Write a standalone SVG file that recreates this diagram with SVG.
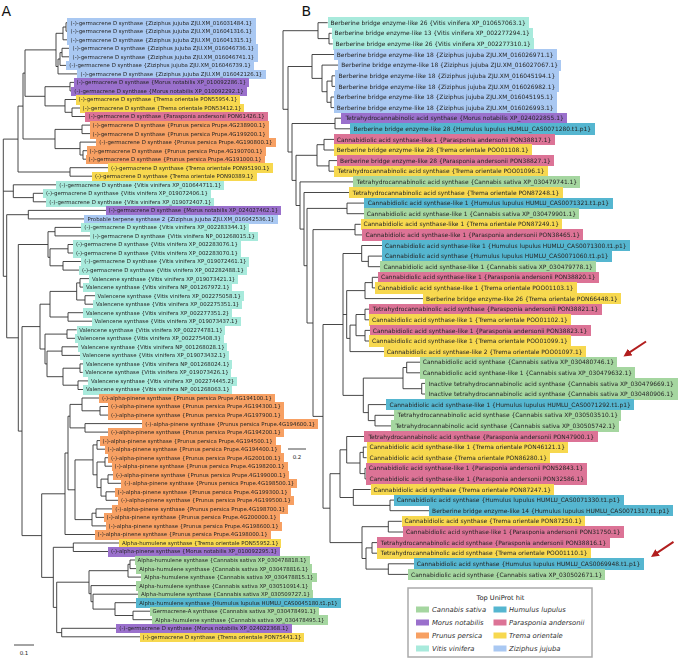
<svg xmlns="http://www.w3.org/2000/svg" width="684" height="660" viewBox="0 0 684 660">
<style>
.e{fill:none;stroke:#333;stroke-width:0.9}
.a{font-family:"DejaVu Sans",Verdana,sans-serif;font-size:5.4px;fill:#262626}
.b{font-family:"DejaVu Sans",Verdana,sans-serif;font-size:5.93px;fill:#262626}
.pl{font-family:"DejaVu Sans",Verdana,sans-serif;font-size:14px;fill:#111}
.sc{font-family:"DejaVu Sans",Verdana,sans-serif;font-size:5.5px;fill:#222}
.lt{font-family:"DejaVu Sans",Verdana,sans-serif;font-size:6.6px;fill:#222}
.li{font-family:"DejaVu Sans",Verdana,sans-serif;font-size:6.8px;font-style:italic;fill:#333}
.a.z{filter:url(#Az)}.a.m{filter:url(#Am)}.a.t{filter:url(#At)}.a.p{filter:url(#Ap)}
.a.r{filter:url(#Ar)}.a.v{filter:url(#Av)}.a.c{filter:url(#Ac)}.a.h{filter:url(#Ah)}
.b.z{filter:url(#Bz)}.b.m{filter:url(#Bm)}.b.t{filter:url(#Bt)}.b.p{filter:url(#Bp)}
.b.r{filter:url(#Br)}.b.v{filter:url(#Bv)}.b.c{filter:url(#Bc)}.b.h{filter:url(#Bh)}
.arr{stroke:#b21e1e;stroke-width:2;fill:none}
</style>
<defs>
<filter id="Az" x="-0.015" y="-0.09" width="1.03" height="1.18" color-interpolation-filters="sRGB"><feFlood flood-color="#a9c8f2"/><feMerge><feMergeNode/><feMergeNode in="SourceGraphic"/></feMerge></filter>
<filter id="Am" x="-0.015" y="-0.09" width="1.03" height="1.18" color-interpolation-filters="sRGB"><feFlood flood-color="#9a70cc"/><feMerge><feMergeNode/><feMergeNode in="SourceGraphic"/></feMerge></filter>
<filter id="At" x="-0.015" y="-0.09" width="1.03" height="1.18" color-interpolation-filters="sRGB"><feFlood flood-color="#f7d84f"/><feMerge><feMergeNode/><feMergeNode in="SourceGraphic"/></feMerge></filter>
<filter id="Ap" x="-0.015" y="-0.09" width="1.03" height="1.18" color-interpolation-filters="sRGB"><feFlood flood-color="#dc7396"/><feMerge><feMergeNode/><feMergeNode in="SourceGraphic"/></feMerge></filter>
<filter id="Ar" x="-0.015" y="-0.09" width="1.03" height="1.18" color-interpolation-filters="sRGB"><feFlood flood-color="#f7a063"/><feMerge><feMergeNode/><feMergeNode in="SourceGraphic"/></feMerge></filter>
<filter id="Av" x="-0.015" y="-0.09" width="1.03" height="1.18" color-interpolation-filters="sRGB"><feFlood flood-color="#a8eadc"/><feMerge><feMergeNode/><feMergeNode in="SourceGraphic"/></feMerge></filter>
<filter id="Ac" x="-0.015" y="-0.09" width="1.03" height="1.18" color-interpolation-filters="sRGB"><feFlood flood-color="#a5d6a0"/><feMerge><feMergeNode/><feMergeNode in="SourceGraphic"/></feMerge></filter>
<filter id="Ah" x="-0.015" y="-0.09" width="1.03" height="1.18" color-interpolation-filters="sRGB"><feFlood flood-color="#55b6d0"/><feMerge><feMergeNode/><feMergeNode in="SourceGraphic"/></feMerge></filter>
<filter id="Bz" x="-0.012" y="-0.15" width="1.024" height="1.3" color-interpolation-filters="sRGB"><feFlood flood-color="#a9c8f2"/><feMerge><feMergeNode/><feMergeNode in="SourceGraphic"/></feMerge></filter>
<filter id="Bm" x="-0.012" y="-0.15" width="1.024" height="1.3" color-interpolation-filters="sRGB"><feFlood flood-color="#9a70cc"/><feMerge><feMergeNode/><feMergeNode in="SourceGraphic"/></feMerge></filter>
<filter id="Bt" x="-0.012" y="-0.15" width="1.024" height="1.3" color-interpolation-filters="sRGB"><feFlood flood-color="#f7d84f"/><feMerge><feMergeNode/><feMergeNode in="SourceGraphic"/></feMerge></filter>
<filter id="Bp" x="-0.012" y="-0.15" width="1.024" height="1.3" color-interpolation-filters="sRGB"><feFlood flood-color="#dc7396"/><feMerge><feMergeNode/><feMergeNode in="SourceGraphic"/></feMerge></filter>
<filter id="Br" x="-0.012" y="-0.15" width="1.024" height="1.3" color-interpolation-filters="sRGB"><feFlood flood-color="#f7a063"/><feMerge><feMergeNode/><feMergeNode in="SourceGraphic"/></feMerge></filter>
<filter id="Bv" x="-0.012" y="-0.15" width="1.024" height="1.3" color-interpolation-filters="sRGB"><feFlood flood-color="#a8eadc"/><feMerge><feMergeNode/><feMergeNode in="SourceGraphic"/></feMerge></filter>
<filter id="Bc" x="-0.012" y="-0.15" width="1.024" height="1.3" color-interpolation-filters="sRGB"><feFlood flood-color="#a5d6a0"/><feMerge><feMergeNode/><feMergeNode in="SourceGraphic"/></feMerge></filter>
<filter id="Bh" x="-0.012" y="-0.15" width="1.024" height="1.3" color-interpolation-filters="sRGB"><feFlood flood-color="#55b6d0"/><feMerge><feMergeNode/><feMergeNode in="SourceGraphic"/></feMerge></filter>
<marker id="ah" viewBox="0 0 10 10" refX="6.5" refY="5" markerWidth="4" markerHeight="4" orient="auto"><path d="M0,0L10,5L0,10z" fill="#b21e1e"/></marker>
</defs>
<rect width="684" height="660" fill="#fff"/>
<text class="pl" x="1.5" y="15.5">A</text>
<text class="pl" x="301.5" y="15.5">B</text>
<g id="edges-A">
<path class="e" d="M66 22.7V31.2M63 27V39.8M62 48.3V56.8M60 52.6V65.4M58 59V73.9M56 33.3V66.5M70 82.4V90.9M72 108V116.5M65 99.5V112.3M45 86.7V105.9M25 49.9V96.3M82 125.1V133.6M83 150.7V159.2M80 142.1V155M55 129.4V148.6M23 73.1V139M70 167.7V176.2M18 106.1V172M33.3 193.3V201.8M13.3 184.8V197.6M28.3 210.4V218.9M55 227.4V235.9M68 244.5V253M63 261.5V270.1M50 248.8V265.8M48 231.7V257.3M80 278.6V287.1M85 295.7V304.2M76.7 282.9V300M68 312.7V321.2M50 291.4V317M67 329.8V338.3M62 346.8V355.4M80 363.9V372.4M78 380.9V389.5M63 368.2V385.2M47 351.1V376.7M45 334.1V363.9M40 304.2V349M100 406.5V415.1M82 398V410.8M85 423.6V432.1M70 404.4V427.9M97 440.6V449.2M105 457.7V466.2M108 474.8V483.3M106 491.8V500.3M101 479.1V496.1M97 462V487.6M93 444.9V474.8M96 508.9V517.4M92 513.2V525.9M75 459.9V519.6M68 416.2V489.8M65 453V534.5M73.3 543V551.5M130 560V568.6M128 564.3V577.1M133 611.2V619.7M115 602.7V615.5M93 594.2V609.1M91 585.6V601.7M89 570.7V593.7M61.7 628.3V636.8M56.7 582.2V632.6M53.3 547.3V607.4M41.7 493.8V577.4M22 326.6V535.6M18.3 244.5V431.1M6.7 214.7V337.8M3.3 139.1V276.3"/>
<path class="e" d="M66 22.7H68M66 31.2H68M63 39.8H68M62 48.3H70M62 56.8H70M60 65.4H66.7M58 73.9H78M70 82.4H74M70 90.9H71.7M65 99.5H76M72 108H80M72 116.5H86M82 125.1H90M82 133.6H90M80 142.1H96.7M83 150.7H87M83 159.2H86M70 167.7H108.3M70 176.2H92.3M13.3 184.8H56.7M33.3 193.3H43.3M33.3 201.8H46.7M28.3 210.4H106M28.3 218.9H85M55 227.4H81.7M55 235.9H90M68 244.5H73.3M68 253H73.3M63 261.5H81.7M63 270.1H79.3M80 278.6H89.3M80 287.1H83.3M85 295.7H95M85 304.2H93.3M68 312.7H83.3M68 321.2H92M67 329.8H76.7M67 338.3H75M62 346.8H78.3M62 355.4H80M80 363.9H83.3M80 372.4H82.7M78 380.9H88.3M78 389.5H83.3M82 398H99.3M100 406.5H108.3M100 415.1H108.3M85 423.6H142.7M85 432.1H108.3M97 440.6H100M97 449.2H105M105 457.7H108.3M105 466.2H112M108 474.8H113.3M108 483.3H121.7M106 491.8H115M106 500.3H118.3M96 508.9H112.7M96 517.4H104M92 525.9H106M65 534.5H95M73.3 543H119.3M73.3 551.5H108.3M130 560H135M130 568.6H136.7M128 577.1H141.7M91 585.6H136.7M93 594.2H138.3M115 602.7H136.7M133 611.2H150M133 619.7H152.7M61.7 628.3H116.7M61.7 636.8H140"/>
<path class="e" d="M63 27H66M56 33.3H63M60 52.6H62M58 59H60M56 66.5H58M45 86.7H70M65 112.3H72M45 105.9H65M25 49.9H56M25 96.3H45M55 129.4H82M80 155H83M55 148.6H80M23 73.1H25M23 139H55M18 106.1H23M18 172H70M13.3 197.6H33.3M3.3 139.1H18M3.3 191.2H13.3M3.3 276.3H6.7M6.7 214.7H28.3M6.7 337.8H18.3M18.3 244.5H48M18.3 431.1H22M48 231.7H55M48 257.3H50M50 248.8H68M50 265.8H63M76.7 282.9H80M76.7 300H85M50 291.4H76.7M50 317H68M40 304.2H50M40 349H45M45 334.1H67M45 363.9H47M47 351.1H62M47 376.7H63M63 368.2H80M63 385.2H78M22 326.6H40M22 535.6H41.7M82 410.8H100M70 404.4H82M70 427.9H85M68 416.2H70M93 444.9H97M93 474.8H97M97 462H105M97 487.6H101M101 479.1H108M101 496.1H106M75 459.9H93M75 519.6H92M92 513.2H96M68 489.8H75M65 453H68M41.7 493.8H65M41.7 577.4H53.3M53.3 547.3H73.3M53.3 607.4H56.7M56.7 582.2H89M56.7 632.6H61.7M89 570.7H128M128 564.3H130M89 593.7H91M91 601.7H93M93 609.1H115M115 615.5H133"/>
<path class="e" d="M14 645H34"/>
</g>
<text class="sc" x="24" y="655" text-anchor="middle">0.1</text>
<g id="edges-B">
<path class="e" d="M329 33.3V43.9M318 22.7V38.6M332 75.8V86.4M331 97V107.6M327 81.1V102.3M322 65.1V91.7M312 54.5V78.4M335 118.2V128.8M324 139.4V150M329 160.6V171.2M317 144.7V165.9M347 203.1V213.7M355 224.3V234.9M368.3 256.1V266.7M361.7 245.5V261.4M372.3 277.3V287.9M365 282.6V298.6M365 309.2V319.8M365 330.4V341M356 314.5V335.7M350 325.1V351.6M346.7 290.6V338.4M406.7 362.2V372.8M421.7 383.4V394M403 367.5V388.7M375 415.3V425.9M368.3 404.6V420.6M363.3 378.1V412.6M343 253.5V395.4M363.3 447.1V457.7M365 468.3V478.9M360 452.4V473.6M346.7 436.5V463M390 500.1V510.7M353.3 489.5V505.4M340 449.8V497.5M388.3 521.3V532M372 542.6V553.2M388.3 563.8V574.4M366 547.9V569.1M362 526.7V558.5M330 473.7V542.6M323 324.5V508.2M313 229.6V416.4M307 208.4V323M304 192.5V265.7M300 181.9V229.1M296 155.3V205.5M292 123.5V180.4M288 66.5V152M283 30.7V109.3"/>
<path class="e" d="M318 22.7H327.7M329 33.3H331.7M329 43.9H332.7M318 38.6H329M312 54.5H334M322 65.1H338.5M332 75.8H335.7M332 86.4H335.7M331 97H334M331 107.6H334M327 81.1H332M327 102.3H331M322 91.7H327M312 78.4H322M335 118.2H342.7M335 128.8H350.7M324 139.4H334M324 150H334M329 160.6H337.3M329 171.2H335M317 144.7H324M317 165.9H329M300 181.9H354M304 192.5H350M347 203.1H365M347 213.7H364M355 224.3H360.7M355 234.9H362.7M361.7 245.5H382.3M368.3 256.1H382.3M368.3 266.7H380.7M361.7 261.4H368.3M372.3 277.3H378.3M372.3 287.9H375M365 282.6H372.3M365 298.6H423.3M365 309.2H370M365 319.8H369.3M365 330.4H370M365 341H369.3M356 314.5H365M356 335.7H365M350 325.1H356M350 351.6H384M346.7 290.6H365M346.7 338.4H350M406.7 362.2H420M406.7 372.8H420M421.7 383.4H425.7M421.7 394H425.7M403 367.5H406.7M403 388.7H421.7M368.3 404.6H386.7M375 415.3H395M375 425.9H392.7M368.3 420.6H375M363.3 378.1H403M363.3 412.6H368.3M343 253.5H361.7M343 314.5H346.7M343 395.4H363.3M346.7 436.5H365.7M363.3 447.1H366.7M363.3 457.7H366.7M365 468.3H366M365 478.9H366.7M360 452.4H363.3M360 473.6H365M346.7 463H360M353.3 489.5H370.7M390 500.1H394M390 510.7H429.3M353.3 505.4H390M340 449.8H346.7M340 497.5H353.3M388.3 521.3H401.7M388.3 532H403.3M372 542.6H378M372 553.2H378M388.3 563.8H414M388.3 574.4H408.3M366 547.9H372M366 569.1H388.3M362 526.7H388.3M362 558.5H366M330 473.7H340M330 542.6H362M323 324.5H343M323 508.2H330M313 229.6H355M313 416.4H323M307 208.4H347M307 323H313M304 265.7H307M300 229.1H304M296 205.5H300M296 155.3H317M292 180.4H296M292 123.5H335M288 152H292M288 66.5H312M283 30.7H318M283 109.3H288"/>
<path class="e" d="M288 449H306"/>
<line class="arr" x1="646" y1="341.5" x2="625.8" y2="354.9" marker-end="url(#ah)"/>
<line class="arr" x1="673.5" y1="541.8" x2="653.3" y2="555.4" marker-end="url(#ah)"/>
</g>
<text class="sc" x="297" y="458.5" text-anchor="middle">0.2</text>
<g id="a1"><text class="a z" x="70.6" y="24.6">(-)-germacrene D synthase {Ziziphus jujuba ZJU.XM_016031484.1}</text></g>
<g id="a2"><text class="a z" x="70.6" y="33.1">(-)-germacrene D synthase {Ziziphus jujuba ZJU.XM_016041316.1}</text></g>
<g id="a3"><text class="a z" x="70.6" y="41.7">(-)-germacrene D synthase {Ziziphus jujuba ZJU.XM_016041315.1}</text></g>
<g id="a4"><text class="a z" x="72.6" y="50.2">(-)-germacrene D synthase {Ziziphus jujuba ZJU.XM_016046736.1}</text></g>
<g id="a5"><text class="a z" x="72.6" y="58.7">(-)-germacrene D synthase {Ziziphus jujuba ZJU.XM_016046741.1}</text></g>
<g id="a6"><text class="a z" x="69.3" y="67.3">(-)-germacrene D synthase {Ziziphus jujuba ZJU.XM_016046739.1}</text></g>
<g id="a7"><text class="a z" x="80.6" y="75.8">(-)-germacrene D synthase {Ziziphus jujuba ZJU.XM_016042126.1}</text></g>
<g id="a8"><text class="a m" x="76.6" y="84.3">(-)-germacrene D synthase {Morus notabilis XP_010092286.1}</text></g>
<g id="a9"><text class="a m" x="74.3" y="92.8">(-)-germacrene D synthase {Morus notabilis XP_010092292.1}</text></g>
<g id="a10"><text class="a t" x="78.6" y="101.4">(-)-germacrene D synthase {Trema orientale PON55954.1}</text></g>
<g id="a11"><text class="a t" x="82.6" y="109.9">(-)-germacrene D synthase {Trema orientale PON53412.1}</text></g>
<g id="a12"><text class="a p" x="88.6" y="118.4">(-)-germacrene D synthase {Parasponia andersonii PON61426.1}</text></g>
<g id="a13"><text class="a r" x="92.6" y="127">(-)-germacrene D synthase {Prunus persica Prupe.4G238900.1}</text></g>
<g id="a14"><text class="a r" x="92.6" y="135.5">(-)-germacrene D synthase {Prunus persica Prupe.4G199200.1}</text></g>
<g id="a15"><text class="a r" x="99.3" y="144">(-)-germacrene D synthase {Prunus persica Prupe.4G190800.1}</text></g>
<g id="a16"><text class="a r" x="89.6" y="152.6">(-)-germacrene D synthase {Prunus persica Prupe.4G190700.1}</text></g>
<g id="a17"><text class="a r" x="88.6" y="161.1">(-)-germacrene D synthase {Prunus persica Prupe.4G191000.1}</text></g>
<g id="a18"><text class="a t" x="110.9" y="169.6">(-)-germacrene D synthase {Trema orientale PON95190.1}</text></g>
<g id="a19"><text class="a t" x="94.9" y="178.1">(-)-germacrene D synthase {Trema orientale PON90389.1}</text></g>
<g id="a20"><text class="a v" x="59.3" y="186.7">(-)-germacrene D synthase {Vitis vinifera XP_010644711.1}</text></g>
<g id="a21"><text class="a v" x="45.9" y="195.2">(-)-germacrene D synthase {Vitis vinifera XP_019072406.1}</text></g>
<g id="a22"><text class="a v" x="49.3" y="203.7">(-)-germacrene D synthase {Vitis vinifera XP_019072407.1}</text></g>
<g id="a23"><text class="a m" x="108.6" y="212.3">(-)-germacrene D synthase {Morus notabilis XP_024027462.1}</text></g>
<g id="a24"><text class="a z" x="87.6" y="220.8">Probable terpene synthase 2 {Ziziphus jujuba ZJU.XM_016042536.1}</text></g>
<g id="a25"><text class="a v" x="84.3" y="229.3">(-)-germacrene D synthase {Vitis vinifera XP_002283344.1}</text></g>
<g id="a26"><text class="a v" x="92.6" y="237.8">(-)-germacrene D synthase {Vitis vinifera NP_001268015.1}</text></g>
<g id="a27"><text class="a v" x="75.9" y="246.4">(-)-germacrene D synthase {Vitis vinifera XP_002283076.1}</text></g>
<g id="a28"><text class="a v" x="75.9" y="254.9">(-)-germacrene D synthase {Vitis vinifera XP_002283070.1}</text></g>
<g id="a29"><text class="a v" x="84.3" y="263.4">(-)-germacrene D synthase {Vitis vinifera XP_019072461.1}</text></g>
<g id="a30"><text class="a v" x="81.9" y="272">(-)-germacrene D synthase {Vitis vinifera XP_002282488.1}</text></g>
<g id="a31"><text class="a v" x="91.9" y="280.5">Valencene synthase {Vitis vinifera XP_019073421.1}</text></g>
<g id="a32"><text class="a v" x="85.9" y="289">Valencene synthase {Vitis vinifera NP_001267972.1}</text></g>
<g id="a33"><text class="a v" x="97.6" y="297.6">Valencene synthase {Vitis vinifera XP_002275058.1}</text></g>
<g id="a34"><text class="a v" x="95.9" y="306.1">Valencene synthase {Vitis vinifera XP_002275351.1}</text></g>
<g id="a35"><text class="a v" x="85.9" y="314.6">Valencene synthase {Vitis vinifera XP_002277351.2}</text></g>
<g id="a36"><text class="a v" x="94.6" y="323.1">Valencene synthase {Vitis vinifera XP_019073437.1}</text></g>
<g id="a37"><text class="a v" x="79.3" y="331.7">Valencene synthase {Vitis vinifera XP_002274781.1}</text></g>
<g id="a38"><text class="a v" x="77.6" y="340.2">Valencene synthase {Vitis vinifera XP_002275408.3}</text></g>
<g id="a39"><text class="a v" x="80.9" y="348.7">Valencene synthase {Vitis vinifera NP_001268028.1}</text></g>
<g id="a40"><text class="a v" x="82.6" y="357.3">Valencene synthase {Vitis vinifera XP_019073432.1}</text></g>
<g id="a41"><text class="a v" x="85.9" y="365.8">Valencene synthase {Vitis vinifera NP_001268024.1}</text></g>
<g id="a42"><text class="a v" x="85.3" y="374.3">Valencene synthase {Vitis vinifera XP_019073426.1}</text></g>
<g id="a43"><text class="a v" x="90.9" y="382.8">Valencene synthase {Vitis vinifera XP_002274445.2}</text></g>
<g id="a44"><text class="a v" x="85.9" y="391.4">Valencene synthase {Vitis vinifera NP_001268063.1}</text></g>
<g id="a45"><text class="a r" x="101.9" y="399.9">(-)-alpha-pinene synthase {Prunus persica Prupe.4G194100.1}</text></g>
<g id="a46"><text class="a r" x="110.9" y="408.4">(-)-alpha-pinene synthase {Prunus persica Prupe.4G194300.1}</text></g>
<g id="a47"><text class="a r" x="110.9" y="417">(-)-alpha-pinene synthase {Prunus persica Prupe.4G197900.1}</text></g>
<g id="a48"><text class="a r" x="145.3" y="425.5">(-)-alpha-pinene synthase {Prunus persica Prupe.4G194600.1}</text></g>
<g id="a49"><text class="a r" x="110.9" y="434">(-)-alpha-pinene synthase {Prunus persica Prupe.4G194200.1}</text></g>
<g id="a50"><text class="a r" x="102.6" y="442.5">(-)-alpha-pinene synthase {Prunus persica Prupe.4G194500.1}</text></g>
<g id="a51"><text class="a r" x="107.6" y="451.1">(-)-alpha-pinene synthase {Prunus persica Prupe.4G194400.1}</text></g>
<g id="a52"><text class="a r" x="110.9" y="459.6">(-)-alpha-pinene synthase {Prunus persica Prupe.4G200100.1}</text></g>
<g id="a53"><text class="a r" x="114.6" y="468.1">(-)-alpha-pinene synthase {Prunus persica Prupe.4G198200.1}</text></g>
<g id="a54"><text class="a r" x="115.9" y="476.7">(-)-alpha-pinene synthase {Prunus persica Prupe.4G199000.1}</text></g>
<g id="a55"><text class="a r" x="124.3" y="485.2">(-)-alpha-pinene synthase {Prunus persica Prupe.4G198500.1}</text></g>
<g id="a56"><text class="a r" x="117.6" y="493.7">(-)-alpha-pinene synthase {Prunus persica Prupe.4G199300.1}</text></g>
<g id="a57"><text class="a r" x="120.9" y="502.2">(-)-alpha-pinene synthase {Prunus persica Prupe.4G199500.1}</text></g>
<g id="a58"><text class="a r" x="115.3" y="510.8">(-)-alpha-pinene synthase {Prunus persica Prupe.4G198700.1}</text></g>
<g id="a59"><text class="a r" x="106.6" y="519.3">(-)-alpha-pinene synthase {Prunus persica Prupe.4G200000.1}</text></g>
<g id="a60"><text class="a r" x="108.6" y="527.8">(-)-alpha-pinene synthase {Prunus persica Prupe.4G198600.1}</text></g>
<g id="a61"><text class="a r" x="97.6" y="536.4">(-)-alpha-pinene synthase {Prunus persica Prupe.4G198000.1}</text></g>
<g id="a62"><text class="a t" x="121.9" y="544.9">Alpha-humulene synthase {Trema orientale PON55952.1}</text></g>
<g id="a63"><text class="a m" x="110.9" y="553.4">(-)-alpha-pinene synthase {Morus notabilis XP_010092295.1}</text></g>
<g id="a64"><text class="a c" x="137.6" y="561.9">Alpha-humulene synthase {Cannabis sativa XP_030478818.1}</text></g>
<g id="a65"><text class="a c" x="139.3" y="570.5">Alpha-humulene synthase {Cannabis sativa XP_030478816.1}</text></g>
<g id="a66"><text class="a c" x="144.3" y="579">Alpha-humulene synthase {Cannabis sativa XP_030478815.1}</text></g>
<g id="a67"><text class="a c" x="139.3" y="587.5">Alpha-humulene synthase {Cannabis sativa XP_030510914.1}</text></g>
<g id="a68"><text class="a c" x="140.9" y="596.1">Alpha-humulene synthase {Cannabis sativa XP_030509727.1}</text></g>
<g id="a69"><text class="a h" x="139.3" y="604.6">Alpha-humulene synthase {Humulus lupulus HUMLU_CAS0045180.t1.p1}</text></g>
<g id="a70"><text class="a c" x="152.6" y="613.1">Germacrene-A synthase {Cannabis sativa XP_030478491.1}</text></g>
<g id="a71"><text class="a c" x="155.3" y="621.6">Alpha-humulene synthase {Cannabis sativa XP_030478495.1}</text></g>
<g id="a72"><text class="a m" x="119.3" y="630.2">(-)-germacrene D synthase {Morus notabilis XP_024022368.1}</text></g>
<g id="a73"><text class="a t" x="142.6" y="638.7">(-)-germacrene D synthase {Trema orientale PON75441.1}</text></g>
<g id="b1"><text class="b v" x="330.5" y="24.8">Berberine bridge enzyme-like 26 {Vitis vinifera XP_010657063.1}</text></g>
<g id="b2"><text class="b v" x="334.5" y="35.4">Berberine bridge enzyme-like 13 {Vitis vinifera XP_002277294.1}</text></g>
<g id="b3"><text class="b v" x="335.5" y="46">Berberine bridge enzyme-like 26 {Vitis vinifera XP_002277310.1}</text></g>
<g id="b4"><text class="b z" x="336.8" y="56.6">Berberine bridge enzyme-like 18 {Ziziphus jujuba ZJU.XM_016026971.1}</text></g>
<g id="b5"><text class="b z" x="341.3" y="67.2">Berberine bridge enzyme-like 18 {Ziziphus jujuba ZJU.XM_016027067.1}</text></g>
<g id="b6"><text class="b z" x="338.5" y="77.9">Berberine bridge enzyme-like 18 {Ziziphus jujuba ZJU.XM_016045194.1}</text></g>
<g id="b7"><text class="b z" x="338.5" y="88.5">Berberine bridge enzyme-like 18 {Ziziphus jujuba ZJU.XM_016026982.1}</text></g>
<g id="b8"><text class="b z" x="336.8" y="99.1">Berberine bridge enzyme-like 18 {Ziziphus jujuba ZJU.XM_016045195.1}</text></g>
<g id="b9"><text class="b z" x="336.8" y="109.7">Berberine bridge enzyme-like 18 {Ziziphus jujuba ZJU.XM_016026993.1}</text></g>
<g id="b10"><text class="b m" x="345.5" y="120.3">Tetrahydrocannabinolic acid synthase {Morus notabilis XP_024022855.1}</text></g>
<g id="b11"><text class="b h" x="353.5" y="130.9">Berberine bridge enzyme-like 28 {Humulus lupulus HUMLU_CAS0071280.t1.p1}</text></g>
<g id="b12"><text class="b p" x="336.8" y="141.5">Cannabidiolic acid synthase-like 1 {Parasponia andersonii PON38817.1}</text></g>
<g id="b13"><text class="b t" x="336.8" y="152.1">Berberine bridge enzyme-like 28 {Trema orientale POO01108.1}</text></g>
<g id="b14"><text class="b p" x="340.1" y="162.7">Berberine bridge enzyme-like 28 {Parasponia andersonii PON38827.1}</text></g>
<g id="b15"><text class="b t" x="337.8" y="173.3">Tetrahydrocannabinolic acid synthase {Trema orientale POO01096.1}</text></g>
<g id="b16"><text class="b c" x="356.8" y="184">Tetrahydrocannabinolic acid synthase {Cannabis sativa XP_030479741.1}</text></g>
<g id="b17"><text class="b t" x="352.8" y="194.6">Tetrahydrocannabinolic acid synthase {Trema orientale PON87248.1}</text></g>
<g id="b18"><text class="b h" x="367.8" y="205.2">Cannabidiolic acid synthase-like 1 {Humulus lupulus HUMLU_CAS0071321.t1.p1}</text></g>
<g id="b19"><text class="b c" x="366.8" y="215.8">Cannabidiolic acid synthase-like 1 {Cannabis sativa XP_030479901.1}</text></g>
<g id="b20"><text class="b t" x="363.5" y="226.4">Cannabidiolic acid synthase-like 1 {Trema orientale PON87249.1}</text></g>
<g id="b21"><text class="b p" x="365.5" y="237">Cannabidiolic acid synthase-like 1 {Parasponia andersonii PON38465.1}</text></g>
<g id="b22"><text class="b h" x="385.1" y="247.6">Cannabidiolic acid synthase-like 1 {Humulus lupulus HUMLU_CAS0071300.t1.p1}</text></g>
<g id="b23"><text class="b h" x="385.1" y="258.2">Cannabidiolic acid synthase {Humulus lupulus HUMLU_CAS0071060.t1.p1}</text></g>
<g id="b24"><text class="b c" x="383.5" y="268.8">Cannabidiolic acid synthase-like 1 {Cannabis sativa XP_030479778.1}</text></g>
<g id="b25"><text class="b p" x="381.1" y="279.4">Cannabidiolic acid synthase-like 1 {Parasponia andersonii PON38820.1}</text></g>
<g id="b26"><text class="b t" x="377.8" y="290">Cannabidiolic acid synthase-like 1 {Trema orientale POO01103.1}</text></g>
<g id="b27"><text class="b t" x="426.1" y="300.7">Berberine bridge enzyme-like 26 {Trema orientale PON66448.1}</text></g>
<g id="b28"><text class="b p" x="372.8" y="311.3">Tetrahydrocannabinolic acid synthase {Parasponia andersonii PON38821.1}</text></g>
<g id="b29"><text class="b t" x="372.1" y="321.9">Cannabidiolic acid synthase-like 1 {Trema orientale POO01102.1}</text></g>
<g id="b30"><text class="b p" x="372.8" y="332.5">Cannabidiolic acid synthase-like 1 {Parasponia andersonii PON38823.1}</text></g>
<g id="b31"><text class="b t" x="372.1" y="343.1">Cannabidiolic acid synthase-like 1 {Trema orientale POO01099.1}</text></g>
<g id="b32"><text class="b t" x="386.8" y="353.7">Cannabidiolic acid synthase-like 2 {Trema orientale POO01097.1}</text></g>
<g id="b33"><text class="b c" x="422.8" y="364.3">Cannabidiolic acid synthase {Cannabis sativa XP_030480746.1}</text></g>
<g id="b34"><text class="b c" x="422.8" y="374.9">Cannabidiolic acid synthase-like 1 {Cannabis sativa XP_030479632.1}</text></g>
<g id="b35"><text class="b c" x="428.5" y="385.5">Inactive tetrahydrocannabinolic acid synthase {Cannabis sativa XP_030479669.1}</text></g>
<g id="b36"><text class="b c" x="428.5" y="396.1">Inactive tetrahydrocannabinolic acid synthase {Cannabis sativa XP_030480906.1}</text></g>
<g id="b37"><text class="b h" x="389.5" y="406.7">Cannabidiolic acid synthase-like 1 {Humulus lupulus HUMLU_CAS0071292.t1.p1}</text></g>
<g id="b38"><text class="b c" x="397.8" y="417.4">Tetrahydrocannabinolic acid synthase {Cannabis sativa XP_030503510.1}</text></g>
<g id="b39"><text class="b c" x="395.5" y="428">Tetrahydrocannabinolic acid synthase {Cannabis sativa XP_030505742.1}</text></g>
<g id="b40"><text class="b p" x="368.5" y="438.6">Tetrahydrocannabinolic acid synthase {Parasponia andersonii PON47900.1}</text></g>
<g id="b41"><text class="b t" x="369.5" y="449.2">Cannabidiolic acid synthase-like 1 {Trema orientale PON46121.1}</text></g>
<g id="b42"><text class="b t" x="369.5" y="459.8">Cannabidiolic acid synthase {Trema orientale PON86280.1}</text></g>
<g id="b43"><text class="b p" x="368.8" y="470.4">Cannabidiolic acid synthase-like 1 {Parasponia andersonii PON52843.1}</text></g>
<g id="b44"><text class="b p" x="369.5" y="481">Cannabidiolic acid synthase-like 1 {Parasponia andersonii PON32586.1}</text></g>
<g id="b45"><text class="b t" x="373.5" y="491.6">Cannabidiolic acid synthase {Trema orientale PON87247.1}</text></g>
<g id="b46"><text class="b h" x="396.8" y="502.2">Cannabidiolic acid synthase {Humulus lupulus HUMLU_CAS0071330.t1.p1}</text></g>
<g id="b47"><text class="b h" x="432.1" y="512.8">Berberine bridge enzyme-like 14 {Humulus lupulus HUMLU_CAS0071317.t1.p1}</text></g>
<g id="b48"><text class="b t" x="404.5" y="523.4">Cannabidiolic acid synthase {Trema orientale PON87250.1}</text></g>
<g id="b49"><text class="b p" x="406.1" y="534.1">Cannabidiolic acid synthase-like 1 {Parasponia andersonii PON31750.1}</text></g>
<g id="b50"><text class="b p" x="380.8" y="544.7">Tetrahydrocannabinolic acid synthase {Parasponia andersonii PON38816.1}</text></g>
<g id="b51"><text class="b t" x="380.8" y="555.3">Tetrahydrocannabinolic acid synthase {Trema orientale POO01110.1}</text></g>
<g id="b52"><text class="b h" x="416.8" y="565.9">Cannabidiolic acid synthase {Humulus lupulus HUMLU_CAS0069948.t1.p1}</text></g>
<g id="b53"><text class="b c" x="411.1" y="576.5">Cannabidiolic acid synthase {Cannabis sativa XP_030502671.1}</text></g>
<g id="legend">
<rect x="408" y="588" width="184" height="69" fill="#fff" stroke="#aaa" stroke-width="1.5"/>
<text class="lt" x="500.5" y="599.5" text-anchor="middle">Top UniProt hit</text>
<rect x="416" y="606.5" width="13" height="6" fill="#a5d6a0"/><text class="li" x="432" y="611.8">Cannabis sativa</text>
<rect x="493.5" y="606.5" width="13" height="6" fill="#55b6d0"/><text class="li" x="509" y="611.8">Humulus lupulus</text>
<rect x="416" y="619.5" width="13" height="6" fill="#9a70cc"/><text class="li" x="432" y="624.8">Morus notabilis</text>
<rect x="493.5" y="619.5" width="13" height="6" fill="#dc7396"/><text class="li" x="509" y="624.8">Parasponia andersonii</text>
<rect x="416" y="632.5" width="13" height="6" fill="#f7a063"/><text class="li" x="432" y="637.8">Prunus persica</text>
<rect x="493.5" y="632.5" width="13" height="6" fill="#f7d84f"/><text class="li" x="509" y="637.8">Trema orientale</text>
<rect x="416" y="645.5" width="13" height="6" fill="#a8eadc"/><text class="li" x="432" y="650.8">Vitis vinifera</text>
<rect x="493.5" y="645.5" width="13" height="6" fill="#a9c8f2"/><text class="li" x="509" y="650.8">Ziziphus jujuba</text>
</g>
</svg>
